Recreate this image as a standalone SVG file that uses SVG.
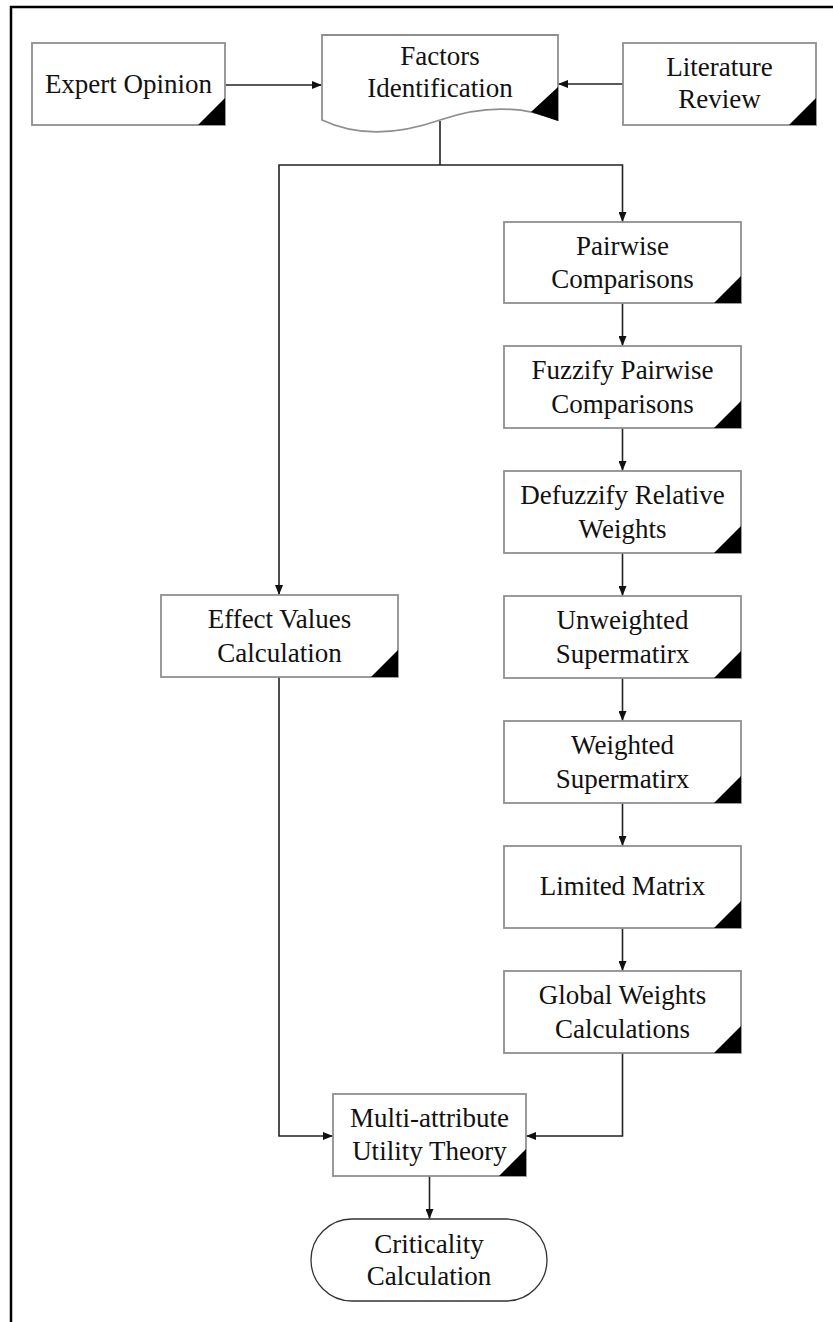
<svg xmlns="http://www.w3.org/2000/svg" width="833" height="1322" viewBox="0 0 833 1322">
<defs>
<marker id="arr" viewBox="0 0 10 8" refX="10" refY="4" markerWidth="10" markerHeight="8" markerUnits="userSpaceOnUse" orient="auto">
<path d="M0,0 L10,4 L0,8 z" fill="#111"/>
</marker>
<style>
.box{fill:#fff;stroke:#8f8f8f;stroke-width:1.8}
.tri{fill:#000}
.lbl{font-family:"Liberation Serif","Times New Roman",serif;font-size:27px;fill:#111;text-anchor:middle}
.con{fill:none;stroke:#222;stroke-width:1.6;marker-end:url(#arr)}
.line{fill:none;stroke:#222;stroke-width:1.6}
</style>
</defs>
<rect width="833" height="1322" fill="#fff"/>
<path d="M11,1322 V7 H833" fill="none" stroke="#000" stroke-width="2.5"/>

<g id="connectors">
<path class="con" d="M225,85 H322"/>
<path class="con" d="M623,84 H558"/>
<path class="line" d="M440,121 V165"/>
<path class="con" d="M440,165 H622.5 V222"/>
<path class="con" d="M440,165 H279 V595"/>
<path class="con" d="M622.5,303 V346"/>
<path class="con" d="M622.5,428 V471"/>
<path class="con" d="M622.5,553 V596"/>
<path class="con" d="M622.5,678 V721"/>
<path class="con" d="M622.5,803 V846"/>
<path class="con" d="M622.5,928 V971"/>
<path class="con" d="M279,677 V1136 H333"/>
<path class="con" d="M622.5,1053 V1136 H526"/>
<path class="con" d="M429.5,1176 V1219"/>
</g>

<g id="expert-opinion">
<rect class="box" x="32" y="43" width="193" height="82"/>
<polygon class="tri" points="225,98 225,125 198,125"/>
<text class="lbl" x="128.5" y="93">Expert Opinion</text>
</g>

<g id="factors-identification">
<path class="box" d="M322,120 V35 H558 V120 C520,105 480,106 440,120 C400,134 360,138 322,120 Z"/>
<polygon class="tri" points="558,87 558,121 531,112"/>
<text class="lbl" x="440" y="65">Factors</text>
<text class="lbl" x="440" y="97">Identification</text>
</g>

<g id="literature-review">
<rect class="box" x="623" y="43" width="193" height="82"/>
<polygon class="tri" points="816,98 816,125 789,125"/>
<text class="lbl" x="719.5" y="76">Literature</text>
<text class="lbl" x="719.5" y="108">Review</text>
</g>

<g id="pairwise-comparisons">
<rect class="box" x="504" y="222" width="237" height="81"/>
<polygon class="tri" points="741,276 741,303 714,303"/>
<text class="lbl" x="622.5" y="255">Pairwise</text>
<text class="lbl" x="622.5" y="288">Comparisons</text>
</g>

<g id="fuzzify-pairwise">
<rect class="box" x="504" y="346" width="237" height="82"/>
<polygon class="tri" points="741,401 741,428 714,428"/>
<text class="lbl" x="622.5" y="379">Fuzzify Pairwise</text>
<text class="lbl" x="622.5" y="413">Comparisons</text>
</g>

<g id="defuzzify-weights">
<rect class="box" x="504" y="471" width="237" height="82"/>
<polygon class="tri" points="741,526 741,553 714,553"/>
<text class="lbl" x="622.5" y="504">Defuzzify Relative</text>
<text class="lbl" x="622.5" y="538">Weights</text>
</g>

<g id="unweighted-supermatrix">
<rect class="box" x="504" y="596" width="237" height="82"/>
<polygon class="tri" points="741,651 741,678 714,678"/>
<text class="lbl" x="622.5" y="629">Unweighted</text>
<text class="lbl" x="622.5" y="663">Supermatirx</text>
</g>

<g id="weighted-supermatrix">
<rect class="box" x="504" y="721" width="237" height="82"/>
<polygon class="tri" points="741,776 741,803 714,803"/>
<text class="lbl" x="622.5" y="754">Weighted</text>
<text class="lbl" x="622.5" y="788">Supermatirx</text>
</g>

<g id="limited-matrix">
<rect class="box" x="504" y="846" width="237" height="82"/>
<polygon class="tri" points="741,901 741,928 714,928"/>
<text class="lbl" x="622.5" y="895">Limited Matrix</text>
</g>

<g id="global-weights">
<rect class="box" x="504" y="971" width="237" height="82"/>
<polygon class="tri" points="741,1026 741,1053 714,1053"/>
<text class="lbl" x="622.5" y="1004">Global Weights</text>
<text class="lbl" x="622.5" y="1038">Calculations</text>
</g>

<g id="effect-values">
<rect class="box" x="161" y="595" width="237" height="82"/>
<polygon class="tri" points="398,650 398,677 371,677"/>
<text class="lbl" x="279.5" y="628">Effect Values</text>
<text class="lbl" x="279.5" y="662">Calculation</text>
</g>

<g id="multi-attribute">
<rect class="box" x="333" y="1094" width="193" height="82"/>
<polygon class="tri" points="526,1149 526,1176 499,1176"/>
<text class="lbl" x="429.5" y="1127">Multi-attribute</text>
<text class="lbl" x="429.5" y="1160">Utility Theory</text>
</g>

<g id="criticality-calculation">
<rect x="311" y="1219" width="236" height="82" rx="41" ry="41" fill="#fff" stroke="#333" stroke-width="1.3"/>
<text class="lbl" x="429" y="1253">Criticality</text>
<text class="lbl" x="429" y="1285">Calculation</text>
</g>
</svg>
